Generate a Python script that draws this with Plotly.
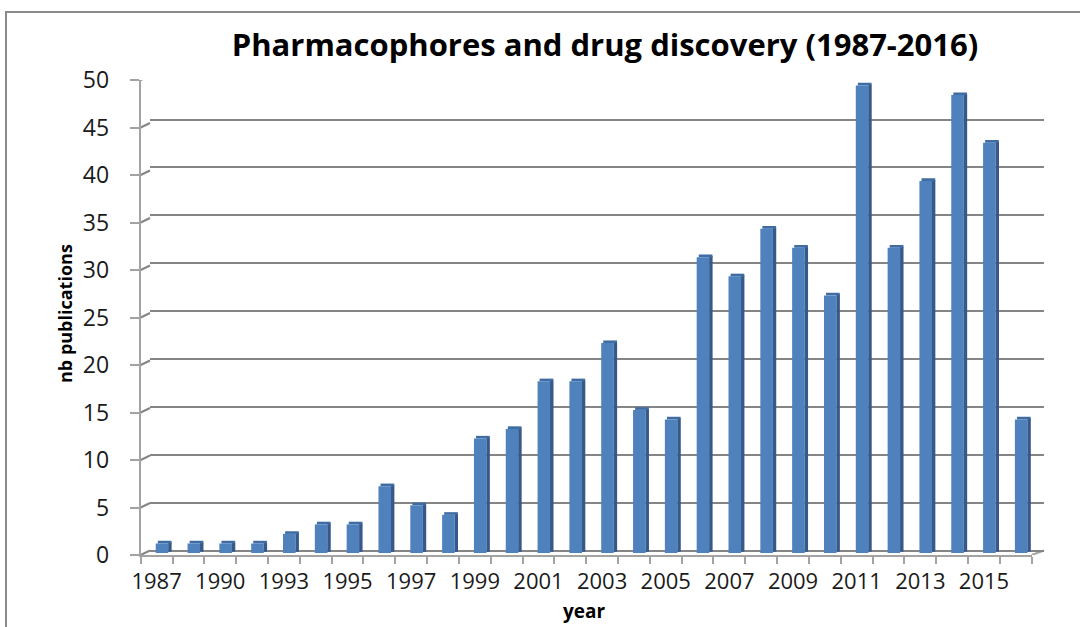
import plotly.graph_objects as go

# ---------------- data ----------------
years = ["1987", "1989", "1990", "1992", "1993", "1994", "1995", "1996", "1997", "1998",
         "1999", "2000", "2001", "2002", "2003", "2004", "2005", "2006", "2007", "2008",
         "2009", "2010", "2011", "2012", "2013", "2014", "2015", "2016"]
publications = [1, 1, 1, 1, 2, 3, 3, 7, 5, 4,
                12, 13, 18, 18, 22, 15, 14, 31, 29, 34,
                32, 27, 49, 32, 39, 48, 43, 14]
y_ticks = [0, 5, 10, 15, 20, 25, 30, 35, 40, 45, 50]
title_text = "Pharmacophores and drug discovery (1987-2016)"
x_title = "year"
y_title = "nb publications"

# ---------------- geometry helpers ----------------
W, H = 1080, 627
def fx(px):
    return px / W
def fy(py):
    return (H - py) / H

idx = list(range(len(years)))
FONT = "Open Sans"
GRID = "#858585"
AXIS = "#a3a3a3"

fig = go.Figure()

# invisible trace so the back-wall subplot (gridlines) is created
fig.add_trace(go.Bar(x=idx, y=publications, marker=dict(color="rgba(0,0,0,0)"),
                     xaxis="x", yaxis="y", hoverinfo="skip", showlegend=False))
# 3D-like bar: side face, top face, front face (all from the same data)
fig.add_trace(go.Bar(x=idx, y=publications, base=0.12, width=0.11, offset=0.205,
                     marker=dict(color="#36598A", line=dict(width=0)),
                     xaxis="x2", yaxis="y2", hoverinfo="skip", showlegend=False))
fig.add_trace(go.Bar(x=idx, y=[0.28] * len(publications), base=publications,
                     width=0.43, offset=-0.12,
                     marker=dict(color="#3F6CA3", line=dict(width=0)),
                     xaxis="x2", yaxis="y2", hoverinfo="skip", showlegend=False))
fig.add_trace(go.Bar(x=idx, y=publications, width=0.395, offset=-0.185,
                     marker=dict(color="#4F81BD", line=dict(width=0)),
                     xaxis="x2", yaxis="y2", showlegend=False,
                     hovertemplate="%{customdata}: %{y}<extra></extra>", customdata=years))

rng_x = [-0.5, len(years) - 0.5]

# back wall (gridlines)
back_x = [150, 1044]
back_y = [550.5, 71.7]
# bars plane
mid_x = [145.7, 1036.7]
mid_y = [553, 76]
# front axes
front_x = [140.7, 1031.7]
front_y = [555, 80]

fig.update_layout(
    template="none",
    width=W, height=H, autosize=False,
    margin=dict(l=0, r=0, t=0, b=0, pad=0, autoexpand=False),
    paper_bgcolor="white", plot_bgcolor="rgba(0,0,0,0)",
    barmode="overlay", showlegend=False,
    title=dict(text=title_text, x=605 / W, xanchor="center", y=fy(45), yanchor="middle",
               yref="container",
               font=dict(family=FONT, size=31, color="black", weight="bold")),
    xaxis=dict(domain=[fx(back_x[0]), fx(back_x[1])], range=rng_x, anchor="y",
               automargin=False,
               showgrid=False, zeroline=False, showline=False, showticklabels=False,
               ticks=""),
    yaxis=dict(domain=[fy(back_y[0]), fy(back_y[1])], range=[0, 50], anchor="x",
               automargin=False,
               tickvals=y_ticks, showticklabels=False, ticks="",
               showgrid=True, gridcolor=GRID, gridwidth=2,
               zeroline=True, zerolinecolor=GRID, zerolinewidth=2, showline=False),
    xaxis2=dict(domain=[fx(mid_x[0]), fx(mid_x[1])], range=rng_x, anchor="y2",
                automargin=False, visible=False),
    yaxis2=dict(domain=[fy(mid_y[0]), fy(mid_y[1])], range=[0, 50], anchor="x2",
                automargin=False, visible=False),
    xaxis3=dict(domain=[fx(front_x[0]), fx(front_x[1])], range=rng_x, anchor="y3",
                automargin=False,
                showgrid=False, zeroline=False,
                showline=True, linecolor=AXIS, linewidth=2,
                tickmode="array", tickvals=idx[::2], ticktext=years[::2], ticks="",
                ticklabelstandoff=6,
                tickfont=dict(family=FONT, size=22, color="#1a1a1a"),
                minor=dict(ticks="outside", tickmode="linear", tick0=-0.5, dtick=1,
                           ticklen=7, tickcolor=AXIS, tickwidth=2, showgrid=False)),
    yaxis3=dict(domain=[fy(front_y[0]), fy(front_y[1])], range=[0, 50], anchor="x3",
                automargin=False,
                tickvals=y_ticks, showgrid=False, zeroline=False,
                showline=True, linecolor=AXIS, linewidth=2,
                ticks="outside", ticklen=9, tickcolor=AXIS, tickwidth=2,
                ticklabelstandoff=16,
                tickfont=dict(family=FONT, size=23, color="#1a1a1a")),
)

# depth connectors (front tick -> back grid line) and floor edge
DEPTH_UNITS = (front_y[0] - back_y[0]) / ((front_y[0] - front_y[1]) / 50)
shapes = []
for v in y_ticks:
    shapes.append(dict(type="line", xref="paper", yref="y3",
                       x0=fx(front_x[0]), x1=fx(back_x[0]), y0=v, y1=v + DEPTH_UNITS,
                       line=dict(color=GRID, width=2), layer="below"))
shapes.append(dict(type="line", xref="paper", yref="y3",
                   x0=fx(front_x[1]), x1=fx(back_x[1]), y0=0, y1=DEPTH_UNITS,
                   line=dict(color=AXIS, width=2), layer="below"))
# outer chart border (cropped on right/bottom)
shapes.append(dict(type="rect", xref="paper", yref="paper",
                   x0=fx(6), x1=1.05, y0=-0.05, y1=fy(12),
                   line=dict(color="#8a8a8a", width=2), fillcolor="rgba(0,0,0,0)"))
fig.update_layout(shapes=shapes)

fig.add_annotation(text=y_title, xref="paper", yref="paper", x=fx(65), y=fy(314),
                   textangle=-90, showarrow=False, xanchor="center", yanchor="middle",
                   font=dict(family=FONT, size=18, color="black", weight="bold"))
fig.add_annotation(text=x_title, xref="paper", yref="paper", x=fx(584), y=fy(611),
                   showarrow=False, xanchor="center", yanchor="middle",
                   font=dict(family=FONT, size=19, color="black", weight="bold"))

fig.write_html("out.html", config={"displayModeBar": False},
               post_script="document.body.style.margin='0px';")
